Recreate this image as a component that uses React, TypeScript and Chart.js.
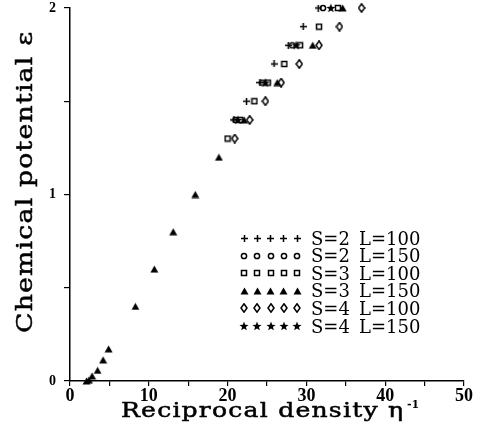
import React, { useEffect, useRef } from 'react';
import { Chart, registerables } from 'chart.js';

Chart.register(...registerables);

// ---- data ----
const legendS = ['S=2', 'S=2', 'S=3', 'S=3', 'S=4', 'S=4'];
const legendL = ['L=100', 'L=150', 'L=100', 'L=150', 'L=100', 'L=150'];

const s2l100X = [20.8, 22.4, 24.1, 25.9, 27.7, 29.6, 31.5];
const s2l100Y = [1.4, 1.5, 1.6, 1.7, 1.8, 1.9, 2.0];

const s2l150X = [21.0, 24.4, 28.2, 32.1];
const s2l150Y = [1.4, 1.6, 1.8, 2.0];

const s3l100X = [20.0, 21.6, 23.4, 25.1, 27.2, 29.2, 31.6, 34.0];
const s3l100Y = [1.3, 1.4, 1.5, 1.6, 1.7, 1.8, 1.9, 2.0];

const s3l150X = [2.1, 2.4, 2.8, 3.5, 4.2, 4.9, 8.3, 10.7, 13.1, 15.9, 18.9, 22.1, 26.3, 30.8, 34.6];
const s3l150Y = [0, 0.005, 0.027, 0.057, 0.113, 0.172, 0.4, 0.6, 0.8, 1.0, 1.2, 1.4, 1.6, 1.8, 2.0];

const s4l100X = [20.9, 22.8, 24.8, 26.8, 29.1, 31.6, 34.2, 37.0];
const s4l100Y = [1.3, 1.4, 1.5, 1.6, 1.7, 1.8, 1.9, 2.0];

const s4l150X = [21.3, 24.8, 28.7, 33.1];
const s4l150Y = [1.4, 1.6, 1.8, 2.0];

const xTicksMajor = [0, 10, 20, 30, 40, 50];
const yTicksMajor = [0, 1, 2];

const xTitle = 'Reciprocal density \u03b7';
const xTitleSup = '-1';
const yTitle = 'Chemical potential \u03b5';

// ---- markers ----
function mk(w: number, h: number, draw: (g: CanvasRenderingContext2D) => void) {
  const c = document.createElement('canvas');
  c.width = w;
  c.height = h;
  const g = c.getContext('2d')!;
  g.strokeStyle = '#000';
  g.fillStyle = '#000';
  g.lineWidth = 1.5;
  draw(g);
  return c;
}

function makeMarkers(): HTMLCanvasElement[] {
  const plus = mk(7, 7, (g) => {
    g.beginPath();
    g.moveTo(0, 3.5); g.lineTo(7, 3.5);
    g.moveTo(3.5, 0); g.lineTo(3.5, 7);
    g.stroke();
  });
  const circle = mk(8, 8, (g) => {
    g.beginPath();
    g.arc(4, 4, 2.6, 0, Math.PI * 2);
    g.stroke();
  });
  const square = mk(8, 8, (g) => {
    g.strokeRect(1.5, 1.5, 5, 5);
  });
  const triangle = mk(9, 8, (g) => {
    g.beginPath();
    g.moveTo(4.5, 0.5); g.lineTo(8.5, 7.5); g.lineTo(0.5, 7.5);
    g.closePath();
    g.fill();
  });
  const diamond = mk(8, 10, (g) => {
    g.beginPath();
    g.moveTo(4, 0.8); g.lineTo(7, 5); g.lineTo(4, 9.2); g.lineTo(1, 5);
    g.closePath();
    g.stroke();
  });
  const star = mk(10, 10, (g) => {
    g.beginPath();
    for (let i = 0; i < 10; i++) {
      const r = i % 2 === 0 ? 4.8 : 2.0;
      const a = -Math.PI / 2 + (i * Math.PI) / 5;
      const px = 5 + r * Math.cos(a);
      const py = 5.4 + r * Math.sin(a);
      if (i === 0) g.moveTo(px, py); else g.lineTo(px, py);
    }
    g.closePath();
    g.fill();
  });
  return [plus, circle, square, triangle, diamond, star];
}

function pts(xs: number[], ys: number[]) {
  return xs.map((x, i) => ({ x, y: ys[i] }));
}

// draws text stretched horizontally so that it spans `target` px
function stretchText(ctx: CanvasRenderingContext2D, t: string, x: number, y: number, target: number, spacing: number) {
  (ctx as any).letterSpacing = spacing + 'px';
  const w = ctx.measureText(t).width - spacing;
  const sx = target / w;
  ctx.save();
  ctx.translate(x, y);
  ctx.scale(sx, 1);
  ctx.fillText(t, 0, 0);
  ctx.lineWidth = 0.5;
  ctx.strokeStyle = '#000';
  ctx.strokeText(t, 0, 0);
  ctx.restore();
  (ctx as any).letterSpacing = '0px';
  return target;
}

export default function App() {
  const ref = useRef<HTMLCanvasElement>(null);

  useEffect(() => {
    const markers = makeMarkers();
    const overlay = {
      id: 'overlay',
      afterDraw(chart: any) {
        const ctx: CanvasRenderingContext2D = chart.ctx;
        ctx.save();
        ctx.fillStyle = '#000';
        ctx.textAlign = 'left';
        ctx.textBaseline = 'alphabetic';
        // x title
        ctx.font = '21px "DejaVu Serif"';
        const w = stretchText(ctx, xTitle, 121, 417, 282, 1);
        ctx.font = 'bold 11px "DejaVu Serif"';
        ctx.fillText(xTitleSup, 121 + w + 4, 408);
        // y title
        ctx.save();
        ctx.translate(32, 333);
        ctx.rotate(-Math.PI / 2);
        ctx.font = '23px "DejaVu Serif"';
        stretchText(ctx, yTitle, 0, 0, 301, 1);
        ctx.restore();
        // legend
        for (let i = 0; i < 6; i++) {
          const yy = 238 + i * 17.6;
          const img = markers[i];
          for (let k = 0; k < 5; k++) {
            const xx = 244 + k * 13.3;
            ctx.drawImage(img, Math.round(xx - img.width / 2), Math.round(yy - img.height / 2));
          }
          ctx.font = '18px "DejaVu Serif"';
          ctx.fillText(legendS[i], 311, yy + 6.5);
          ctx.fillText(legendL[i], 359, yy + 6.5);
        }
        ctx.restore();
      },
    };

    const mkDs = (xs: number[], ys: number[], i: number) => ({
      data: pts(xs, ys),
      pointStyle: markers[i],
      pointRadius: 3,
      pointHoverRadius: 3,
      showLine: false,
      clip: false as any,
    });

    const chart = new Chart(ref.current!, {
      type: 'scatter',
      data: {
        datasets: [
          mkDs(s2l100X, s2l100Y, 0),
          mkDs(s2l150X, s2l150Y, 1),
          mkDs(s3l100X, s3l100Y, 2),
          mkDs(s3l150X, s3l150Y, 3),
          mkDs(s4l100X, s4l100Y, 4),
          mkDs(s4l150X, s4l150Y, 5),
        ] as any,
      },
      options: {
        responsive: false,
        animation: false,
        events: [],
        layout: { padding: { top: 0, right: 16, left: 0, bottom: 0 } },
        plugins: { legend: { display: false }, tooltip: { enabled: false } },
        scales: {
          x: {
            type: 'linear',
            min: 0,
            max: 50,
            afterFit: (s: any) => { s.height = 52; },
            border: { color: '#000', width: 1.5 },
            grid: { drawOnChartArea: false, drawTicks: true, tickLength: 5, color: '#000', lineWidth: 1.2 },
            ticks: {
              stepSize: 5,
              padding: 0,
              maxRotation: 0,
              autoSkip: false,
              color: '#000',
              font: { family: '"Liberation Serif"', size: 18, weight: 'bold' },
              callback: (v: any) => (xTicksMajor.includes(Number(v)) ? String(v) : ''),
            },
          },
          y: {
            type: 'linear',
            min: 0,
            max: 2,
            afterFit: (s: any) => { s.width = 70; s.paddingTop = 8; s.paddingBottom = 0; },
            border: { color: '#000', width: 1.5 },
            grid: { drawOnChartArea: false, drawTicks: true, tickLength: 6, color: '#000', lineWidth: 1.2 },
            ticks: {
              stepSize: 0.5,
              padding: 8,
              autoSkip: false,
              color: '#000',
              font: { family: '"Liberation Serif"', size: 14, weight: 'bold' },
              callback: (v: any) => (yTicksMajor.includes(Number(v)) ? String(v) : ''),
            },
          },
        },
      },
      plugins: [overlay],
    });
    return () => chart.destroy();
  }, []);

  return (
    <div style={{ position: 'fixed', left: 0, top: 0, width: 480, height: 433, background: '#fff' }}>
      <canvas ref={ref} width={480} height={433} style={{ display: 'block' }} />
    </div>
  );
}
